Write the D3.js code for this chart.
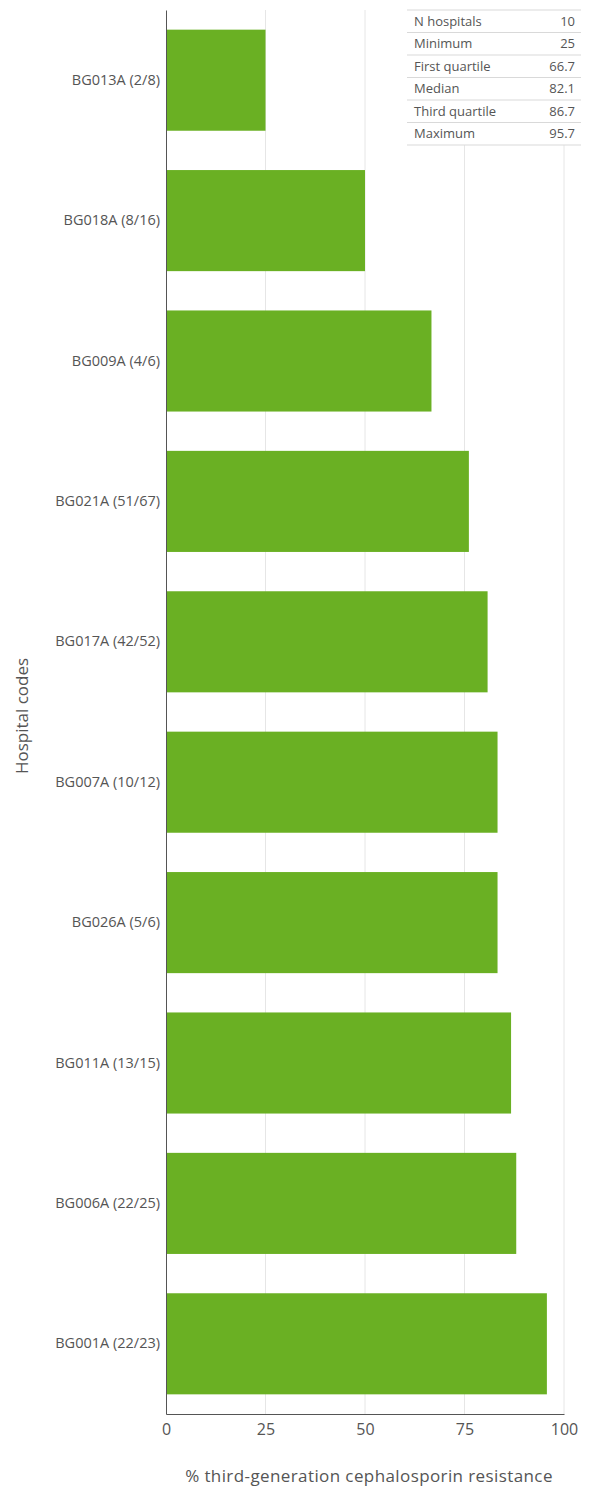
<!DOCTYPE html>
<html><head><meta charset="utf-8">
<script src="https://cdn.jsdelivr.net/npm/d3@7"></script>
<style>body{margin:0;background:#fff;}text{font-family:"Open Sans","Noto Sans",sans-serif;}</style>
</head><body><svg id="c" width="589" height="1488"></svg>
<script>
const categories = ["BG013A (2/8)","BG018A (8/16)","BG009A (4/6)","BG021A (51/67)","BG017A (42/52)","BG007A (10/12)","BG026A (5/6)","BG011A (13/15)","BG006A (22/25)","BG001A (22/23)"];
const values = [25, 50, 66.7, 76.1, 80.8, 83.3, 83.3, 86.7, 88, 95.7];
const xTicks = [0, 25, 50, 75, 100];
const statLabels = ["N hospitals","Minimum","First quartile","Median","Third quartile","Maximum"];
const statValues = ["10","25","66.7","82.1","86.7","95.7"];

const svg = d3.select("#c");
const mLeft = 166, mRight = 564, mTop = 10, mBottom = 1414;
const x = d3.scaleLinear().domain([0,100]).range([mLeft,mRight]);
const y = d3.scaleBand().domain(categories).range([mTop,mBottom]).paddingInner(0.28).paddingOuter(0.14);
const textCol = "#555";

// gridlines
svg.append("g").selectAll("line").data(xTicks.slice(1)).join("line")
  .attr("x1",d=>x(d)).attr("x2",d=>x(d)).attr("y1",mTop).attr("y2",mBottom)
  .attr("stroke","#e6e6e6").attr("stroke-width",1);

// bars
svg.append("g").selectAll("rect").data(values).join("rect")
  .attr("x",x(0)).attr("y",(d,i)=>y(categories[i]))
  .attr("width",d=>x(d)-x(0)).attr("height",y.bandwidth())
  .attr("fill","#6ab023");

// y axis
const ya = svg.append("g").attr("transform",`translate(${mLeft},0)`).call(d3.axisLeft(y).tickSize(0).tickPadding(6));
ya.select(".domain").attr("stroke","#555");
ya.selectAll("text").attr("fill",textCol).style("font-size","14.5px");

// x axis
const xa = svg.append("g").attr("transform",`translate(0,${mBottom})`).call(d3.axisBottom(x).tickValues(xTicks).tickSize(0).tickPadding(10));
xa.select(".domain").attr("stroke","#555");
xa.selectAll("text").attr("fill",textCol).style("font-size","16px");

// titles
svg.append("text").attr("x",369).attr("y",1482).attr("text-anchor","middle").attr("fill",textCol).style("font-size","17px").style("letter-spacing","0.4px").text("% third-generation cephalosporin resistance");
svg.append("text").attr("transform","translate(28,716) rotate(-90)").attr("text-anchor","middle").attr("fill",textCol).style("font-size","17px").text("Hospital codes");

// stats table
const tx0 = 407, tx1 = 581, ty0 = 10, rh = 22.5;
const tg = svg.append("g");
tg.append("rect").attr("x",tx0).attr("y",ty0).attr("width",tx1-tx0).attr("height",rh*statLabels.length).attr("fill","#fff");
statLabels.forEach((s,i)=>{
  const yy = ty0 + i*rh;
  tg.append("line").attr("x1",tx0).attr("x2",tx1).attr("y1",yy+rh).attr("y2",yy+rh).attr("stroke","#d9d9d9");
  tg.append("text").attr("x",414).attr("y",yy+rh/2+4.5).attr("fill",textCol).style("font-size","13px").text(s);
  tg.append("text").attr("x",575).attr("y",yy+rh/2+4.5).attr("text-anchor","end").attr("fill",textCol).style("font-size","13px").text(statValues[i]);
});
tg.append("line").attr("x1",tx0).attr("x2",tx1).attr("y1",ty0).attr("y2",ty0).attr("stroke","#d9d9d9");
</script></body></html>
